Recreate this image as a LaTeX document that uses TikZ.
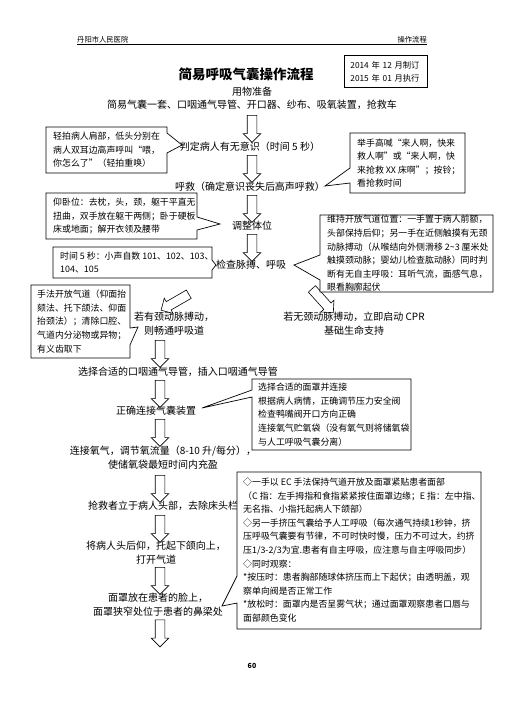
\documentclass[tikz,border=0pt]{standalone}
\usepackage{fontspec}
\setmainfont{Noto Sans CJK SC}
\usetikzlibrary{shapes.arrows}
\begin{document}
\begin{tikzpicture}[x=1pt,y=-1pt,
  every node/.style={inner sep=0pt},
  main/.style={font=\fontsize{10}{14}\selectfont, align=center},
  note/.style={font=\fontsize{8.9}{13.6}\selectfont, align=left, anchor=west},
  harrow/.style={single arrow, draw, line width=0.6pt, fill=white, minimum height=27pt, inner sep=4.5pt, single arrow head extend=4pt},
  outline/.style={line width=0.7pt, line join=miter, fill=white}]
\useasboundingbox[fill=white] (0,0) rectangle (504,713);

% header
\node[anchor=west, font=\fontsize{7.3}{9}\selectfont] (hl) at (77,40) {丹阳市人民医院};
\node[anchor=east, font=\fontsize{7.3}{9}\selectfont] (hr) at (427,40) {操作流程};
\draw[line width=0.9pt] (hl.west |- 0,44.5) coordinate (hla) -- (hr.east |- 0,44.5) coordinate (hlb);

% date box
\node[draw, line width=0.8pt, anchor=north west, minimum width=83pt, minimum height=32pt, align=left, text width=71pt, inner xsep=6pt, font=\fontsize{8.3}{13}\selectfont] (date) at (344,55) {2014~年~12~月制订\\2015~年~01~月执行};

% title
\node[font=\fontsize{13.5}{16}\selectfont\bfseries] (title) at (246,74) {简易呼吸气囊操作流程};

% main flow texts
\node[main] (n0) at (252,92) {用物准备};
\node[main] (n0b) at (252,105) {简易气囊一套、口咽通气导管、开口器、纱布、吸氧装置，抢救车};
\node[main] (n1) at (250,147) {判定病人有无意识（时间 5 秒）};
\node[main] (n2) at (250,186.5) {呼救（确定意识丧失后高声呼救）};
\node[main] (n3) at (252,226) {调整体位};
\node[main] (n4) at (251,264.5) {检查脉搏、呼吸};
\node[main] (n5) at (174,324) {若有颈动脉搏动，\\则畅通呼吸道};
\node[main] (n6) at (354,324) {若无颈动脉搏动，立即启动 CPR\\基础生命支持};
\node[main] (n7) at (178,372) {选择合适的口咽通气导管，插入口咽通气导管};
\node[main] (n8) at (156,411) {正确连接气囊装置};
\node[main] (n9) at (163,458) {连接氧气，调节氧流量（8-10 升/每分），\\使储氧袋最短时间内充盈};
\node[main, anchor=west] (n10) at (88,505.5) {抢救者立于病人头部，去除床头栏};
\node[main] (n11) at (156,553) {将病人头后仰，托起下颌向上，\\打开气道};
\node[main] (n12) at (158,605) {面罩放在患者的脸上，\\面罩狭窄处位于患者的鼻梁处};

% hollow block arrows
\node[harrow, rotate=-90] (a1) at (252,126.5) {};
\node[harrow, rotate=-90] (a2) at (252,166.5) {};
\node[harrow, rotate=-90] (a3) at (252,206.5) {};
\node[harrow, rotate=-90] (a4) at (252,245.5) {};
\node[harrow, rotate=-150, minimum height=32pt] (a5) at (177,301) {};
\node[harrow, rotate=-48, minimum height=32pt] (a6) at (321,299) {};
\node[harrow, rotate=-90] (a7) at (160,351.5) {};
\node[harrow, rotate=-90] (a8) at (160,391.5) {};
\node[harrow, rotate=-90] (a9) at (160,430.5) {};
\node[harrow, rotate=-90] (a10) at (160,486.5) {};
\node[harrow, rotate=-90] (a11) at (160,526.5) {};
\node[harrow, rotate=-90] (a12) at (160,578.5) {};
\node[harrow, rotate=-90] (a13) at (160,631) {};

% callout tips
\coordinate (t1) at (182,145);
\coordinate (t2) at (325,186);
\coordinate (t3) at (220,224);
\coordinate (t4) at (216,265);
\coordinate (t5) at (294,265);
\coordinate (t6) at (138,327);
\coordinate (t7) at (202,408);
\coordinate (t8) at (222,606);

% box corners
\coordinate (b1a) at (46,127);  \coordinate (b1b) at (167,173);
\coordinate (b2a) at (350,133); \coordinate (b2b) at (465,193);
\coordinate (b3a) at (46,193);  \coordinate (b3b) at (197,239);
\coordinate (b4a) at (53,247);  \coordinate (b4b) at (212,278);
\coordinate (b5a) at (320,215); \coordinate (b5b) at (493,292);
\coordinate (b6a) at (31,285);  \coordinate (b6b) at (130,358);
\coordinate (b7a) at (252,379); \coordinate (b7b) at (411,450);
\coordinate (b8a) at (237,472); \coordinate (b8b) at (481,629);

% callout box 1
\draw[outline] (b1a) -- (b1b |- b1a) -- (b1b |- 0,133) -- (t1) -- (b1b |- 0,153)
  -- (b1b) -- (b1a |- b1b) -- cycle;
\node[note] (b1) at (53,150)
  {轻拍病人肩部，低头分别在\\病人双耳边高声呼叫“喂，\\你怎么了”（轻拍重唤）};

% callout box 2
\draw[outline] (b2a) -- (b2b |- b2a) -- (b2b) -- (b2a |- b2b) -- (b2a |- 0,183) -- (t2)
  -- (b2a |- 0,168) -- cycle;
\node[note] (b2) at (357,163)
  {举手高喊“来人啊，快来\\救人啊”或“来人啊，快\\来抢救~XX~床啊”；按铃；\\看抢救时间};

% callout box 3
\draw[outline] (b3a) -- (b3b |- b3a) -- (b3b |- 0,217) -- (t3) -- (b3b |- 0,230)
  -- (b3b) -- (b3a |- b3b) -- cycle;
\node[note] (b3) at (53,216)
  {仰卧位：去枕，头，颈，躯干平直无\\扭曲，双手放在躯干两侧；卧于硬板\\床或地面；解开衣领及腰带};

% callout box 4
\draw[outline] (b4a) -- (b4b |- b4a) -- (b4b |- 0,260) -- (t4) -- (b4b |- 0,270)
  -- (b4b) -- (b4a |- b4b) -- cycle;
\node[note] (b4) at (60,262.5)
  {时间~5~秒：小声自数~101、102、103、\\104、105};

% callout box 5
\draw[outline] (b5a) -- (b5b |- b5a) -- (b5b) -- (b5a |- b5b) -- (b5a |- 0,280) -- (t5)
  -- (b5a |- 0,255) -- cycle;
\node[note] (b5) at (327,253.5)
  {维持开放气道位置：一手置于病人前额，\\头部保持后仰；另一手在近侧触摸有无颈\\动脉搏动（从喉结向外侧滑移~2\textasciitilde 3~厘米处\\触摸颈动脉；婴幼儿检查肱动脉）同时判\\断有无自主呼吸：耳听气流，面感气息，\\眼看胸廓起伏};

% callout box 6
\draw[outline] (b6a) -- (b6b |- b6a) -- (b6b |- 0,328) -- (t6) -- (b6b |- 0,345)
  -- (b6b) -- (b6a |- b6b) -- cycle;
\node[note] (b6) at (37,321.5)
  {手法开放气道（仰面抬\\颏法、托下颌法、仰面\\抬颈法）；清除口腔、\\气道内分泌物或异物；\\有义齿取下};

% callout box 7
\draw[outline] (b7a) -- (b7b |- b7a) -- (b7b) -- (b7a |- b7b) -- (b7a |- 0,397) -- (t7)
  -- (b7a |- 0,390) -- cycle;
\node[note] (b7) at (258,414.5)
  {选择合适的面罩并连接\\根据病人病情，正确调节压力安全阀\\检查鸭嘴阀开口方向正确\\连接氧气贮氧袋（没有氧气则将储氧袋\\与人工呼吸气囊分离）};

% callout box 8
\draw[outline] (b8a) -- (b8b |- b8a) -- (b8b) -- (b8a |- b8b) -- (b8a |- 0,603) -- (t8)
  -- (b8a |- 0,576) -- cycle;
\node[note] (b8) at (243,550)
  {◇一手以~EC~手法保持气道开放及面罩紧贴患者面部\\（C~指：左手拇指和食指紧紧按住面罩边缘；E~指：左中指、\\无名指、小指托起病人下颌部）\\◇另一手挤压气囊给予人工呼吸（每次通气持续1秒钟，挤\\压呼吸气囊要有节律，不可时快时慢，压力不可过大，约挤\\压1/3-2/3为宜.患者有自主呼吸，应注意与自主呼吸同步）\\◇同时观察：\\{*}按压时：患者胸部随球体挤压而上下起伏；由透明盖，观\\察单向阀是否正常工作\\{*}放松时：面罩内是否呈雾气状；通过面罩观察患者口唇与\\面部颜色变化};

% page number
\node[font=\fontsize{7}{8}\selectfont\bfseries] (pg) at (252,666) {60};
\end{tikzpicture}
\end{document}
